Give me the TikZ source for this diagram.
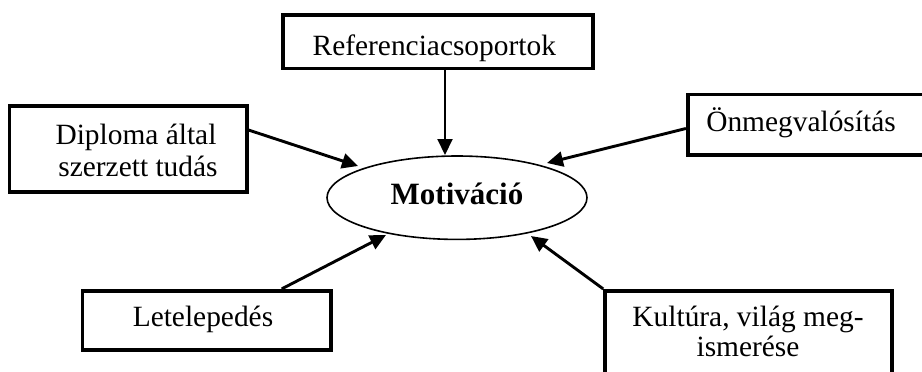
\documentclass[tikz,border=0pt]{standalone}
\usepackage{fontspec}
\setmainfont{Liberation Serif}
\usetikzlibrary{arrows.meta,shapes.geometric,fit}
\begin{document}
\begin{tikzpicture}[x=0.5pt,y=-0.5pt,
  box/.style={draw, line width=1.8pt, inner sep=0pt},
  lbl/.style={anchor=base, inner sep=0pt, font=\fontsize{14.7}{16}\selectfont},
  arr/.style={line width=1.45pt, -{Triangle[length=8pt,width=7.5pt]}},
  thinarr/.style={line width=1pt, -{Triangle[length=8pt,width=7.5pt]}},
  motiv/.style={ellipse, draw, line width=0.8pt, inner sep=0pt,
    minimum width=130pt, minimum height=41.7pt,
    text height=0.66em, text depth=0pt,
    font=\fontsize{15.5}{16}\selectfont\bfseries}]
\useasboundingbox (0,0) rectangle (922,371);
\clip (0,0) rectangle (922,371);

% central ellipse
\node[motiv] (m) at (457,197.7) {Motiváció};

% boxes
\node[box, fit={(282.7,15) (592.7,68.3)}] (ref) {};
\node[lbl] (reft) at (434.3,55) {Referenciacsoportok};

\node[box, fit={(9.3,106) (246.7,191.7)}] (dip) {};
\node[lbl] (dipt1) at (136,144) {Diploma által};
\node[lbl] (dipt2) at (138,176) {szerzett tudás};

\node[box, fit={(687.7,94.3) (935,155)}] (onm) {};
\node[lbl] (onmt) at (801,131.7) {Önmegvalósítás};

\node[box, fit={(82.3,290.7) (330.7,350)}] (let) {};
\node[lbl] (lett) at (203,326.7) {Letelepedés};

\node[box, fit={(605,290.7) (891.7,385)}] (kul) {};
\node[lbl] (kult1) at (748,326) {Kultúra, világ meg-};
\node[lbl] (kult2) at (748,356.7) {ismerése};

% arrow tips
\coordinate (tref) at (445,155);
\coordinate (tdip) at (358,166);
\coordinate (tonm) at (547,163);
\coordinate (tlet) at (386,235);
\coordinate (tkul) at (531,236);

% connectors
\draw[thinarr] (ref.south -| 445,0) -- (tref);
\draw[arr] (dip.east |- 0,130) -- (tdip);
\draw[arr] (onm.west |- 0,128.5) -- (tonm);
\draw[arr] (let.north -| 281.7,0) -- (tlet);
\draw[arr] (kul.north west) -- (tkul);
\end{tikzpicture}
\end{document}
